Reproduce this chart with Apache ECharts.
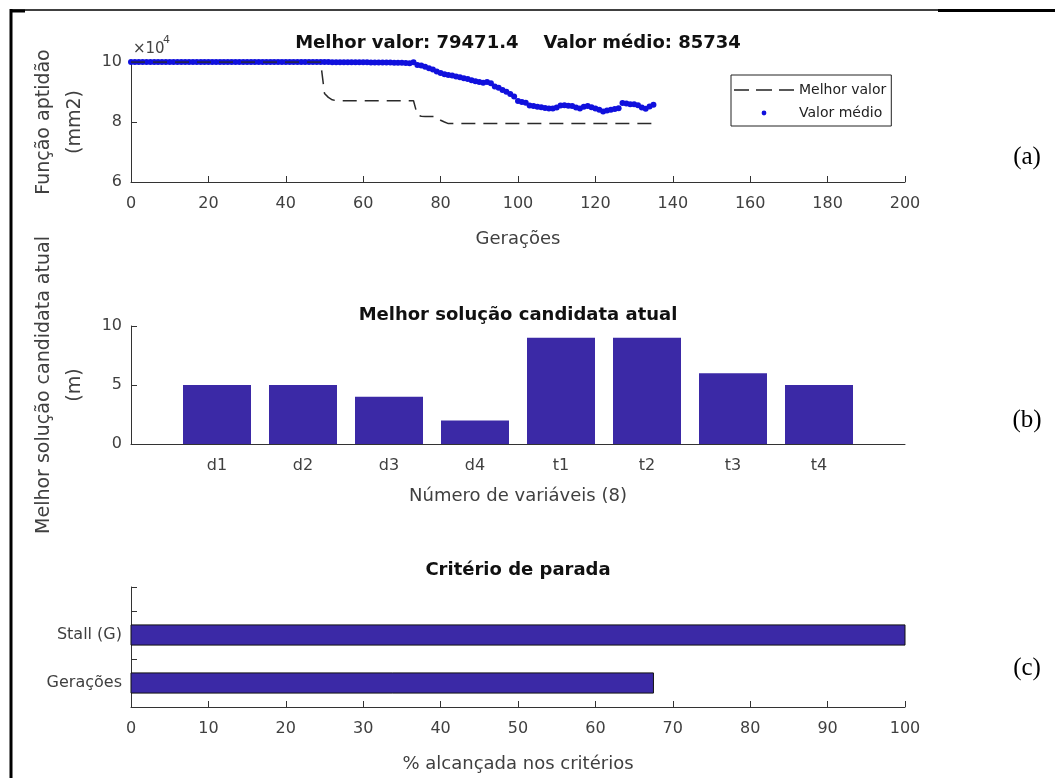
<!DOCTYPE html>
<html>
<head>
<meta charset="utf-8">
<title>Algoritmo genético</title>
<script src="https://cdn.jsdelivr.net/npm/echarts@6.0.0/dist/echarts.min.js"></script>
<style>
html,body{margin:0;padding:0;background:#fff}
#main{width:1055px;height:778px}
</style>
</head>
<body>
<div id="main"></div>
<script>
// (a) melhor valor e valor medio por geracao (0..135)
var bestValues = [
100000,100000,100000,100000,100000,100000,100000,100000,100000,100000,
100000,100000,100000,100000,100000,100000,100000,100000,100000,100000,
100000,100000,100000,100000,100000,100000,100000,100000,100000,100000,
100000,100000,100000,100000,100000,100000,100000,100000,100000,100000,
100000,100000,100000,100000,100000,100000,100000,100000,100000,100000,
89500,88200,87400,87100,87100,87100,87100,87100,87100,87100,
87100,87100,87100,87100,87100,87100,87100,87100,87100,87100,
87100,87100,87100,87100,82300,81900,81800,81800,81800,81800,
80600,80000,79471.4,79471.4,79471.4,79471.4,79471.4,79471.4,79471.4,79471.4,
79471.4,79471.4,79471.4,79471.4,79471.4,79471.4,79471.4,79471.4,79471.4,79471.4,
79471.4,79471.4,79471.4,79471.4,79471.4,79471.4,79471.4,79471.4,79471.4,79471.4,
79471.4,79471.4,79471.4,79471.4,79471.4,79471.4,79471.4,79471.4,79471.4,79471.4,
79471.4,79471.4,79471.4,79471.4,79471.4,79471.4,79471.4,79471.4,79471.4,79471.4,
79471.4,79471.4,79471.4,79471.4,79471.4,79471.4
];
var meanValues = [
100000,100000,100000,100000,100000,100000,100000,100000,100000,100000,
100000,100000,100000,100000,100000,100000,100000,100000,100000,100000,
100000,100000,100000,100000,100000,100000,100000,100000,100000,100000,
100000,100000,100000,100000,100000,100000,100000,100000,100000,100000,
100000,100000,100000,100000,100000,99990,99990,99980,99980,99970,
99960,99960,99950,99940,99940,99930,99920,99920,99910,99900,
99890,99880,99870,99860,99850,99830,99820,99800,99780,99760,
99720,99690,99620,99950,99000,98800,98400,97900,97500,96800,
96300,95900,95700,95500,95200,94900,94600,94300,93900,93600,
93300,93100,93300,92900,91800,91400,90700,90100,89300,88500,
87000,86700,86400,85500,85300,85100,84900,84700,84500,84500,
84800,85500,85600,85400,85300,84800,84500,85100,85300,84900,
84500,84100,83500,83800,84100,84300,84600,86300,86200,85900,
85900,85600,84800,84400,85200,85734
];

// (b) melhor solucao candidata atual
var variableNames = ['d1', 'd2', 'd3', 'd4', 't1', 't2', 't3', 't4'];
var variableValues = [5, 5, 4, 2, 9, 9, 6, 5];

// (c) criterio de parada (%)
var criteriaNames = ['Gerações', 'Stall (G)'];
var criteriaValues = [67.5, 100];

var font = 'DejaVu Sans';
var txt = '#404040';
var ax = '#333';

var chart = echarts.init(document.getElementById('main'));

var bestData = bestValues.map(function (v, i) { return [i, v]; });
var meanData = meanValues.map(function (v, i) { return [i, v]; });
var varData = variableValues.map(function (v, i) { return [i + 1, v]; });
var critData = criteriaValues.map(function (v, i) { return [v, i + 1]; });

function xAx(grid, min, max, step, name, gap, fmt) {
    return {
        gridIndex: grid, type: 'value', min: min, max: max, interval: step,
        name: name, nameLocation: 'middle', nameGap: gap,
        nameTextStyle: {fontSize: 18, color: txt, fontFamily: font},
        axisLine: {show: true, lineStyle: {color: ax, width: 1}},
        axisTick: {show: true, inside: true, length: 6, lineStyle: {color: ax}},
        axisLabel: {margin: 14, fontSize: 16, color: txt, fontFamily: font, formatter: fmt},
        splitLine: {show: false}
    };
}
function yAx(grid, min, max, step, name, fmt) {
    return {
        gridIndex: grid, type: 'value', min: min, max: max, interval: step,
        name: name, nameLocation: 'middle', nameGap: 40,
        nameTextStyle: {fontSize: 19, lineHeight: 31, color: txt, fontFamily: font},
        axisLine: {show: true, lineStyle: {color: ax, width: 1}},
        axisTick: {show: true, inside: true, length: 6, lineStyle: {color: ax}},
        axisLabel: {margin: 9, fontSize: 16, color: txt, fontFamily: font, formatter: fmt},
        splitLine: {show: false}
    };
}

var xb = xAx(1, 0, 9, 1, 'Número de variáveis (8)', 43, function (v) {
    return variableNames[v - 1] || '';
});
xb.axisTick.show = false;

option = {
    animation: false,
    backgroundColor: '#fff',
    title: [
        {text: 'Melhor valor: 79471.4    Valor médio: 85734', left: 518, top: 34, textAlign: 'center', padding: 0,
            textStyle: {fontSize: 18, fontWeight: 'bold', color: '#111', fontFamily: font}},
        {text: 'Melhor solução candidata atual', left: 518, top: 306, textAlign: 'center', padding: 0,
            textStyle: {fontSize: 18, fontWeight: 'bold', color: '#111', fontFamily: font}},
        {text: 'Critério de parada', left: 518, top: 561, textAlign: 'center', padding: 0,
            textStyle: {fontSize: 18, fontWeight: 'bold', color: '#111', fontFamily: font}}
    ],
    legend: {
        left: 731, top: 75, orient: 'vertical',
        borderColor: '#222', borderWidth: 1, backgroundColor: '#fff',
        padding: [8, 5, 6, 3], itemGap: 9, itemWidth: 60, itemHeight: 14,
        selectedMode: false,
        itemStyle: {borderWidth: 0},
        textStyle: {fontSize: 14, color: '#222', fontFamily: font},
        data: [
            {name: 'Melhor valor', icon: 'path://M0,0M60,14M0,6.3L15,6.3L15,7.7L0,7.7Z M22,6.3L38,6.3L38,7.7L22,7.7Z M45,6.3L60,6.3L60,7.7L45,7.7Z'},
            {name: 'Valor médio', icon: 'path://M0,0M60,14M27.6,7A2.4,2.4 0 1,0 32.4,7A2.4,2.4 0 1,0 27.6,7Z'}
        ]
    },
    grid: [
        {left: 131, right: 150, top: 62, height: 120},
        {left: 131, right: 150, top: 326, height: 118},
        {left: 131, right: 150, top: 587, height: 120}
    ],
    xAxis: [
        xAx(0, 0, 200, 20, 'Gerações', 48),
        xb,
        xAx(2, 0, 100, 10, '% alcançada nos critérios', 48)
    ],
    yAxis: [
        yAx(0, 60000, 100000, 20000, 'Função aptidão\n(mm2)', function (v) { return v / 10000; }),
        yAx(1, 0, 10, 5, 'Melhor solução candidata atual\n(m)'),
        yAx(2, 0.5, 3, 0.5, '', function (v) {
            return v % 1 === 0 ? (criteriaNames[v - 1] || '') : '';
        })
    ],
    series: [
        {
            name: 'Melhor valor', type: 'line', xAxisIndex: 0, yAxisIndex: 0,
            data: bestData, showSymbol: false, color: '#222',
            lineStyle: {color: '#2a2a2a', width: 1.5, type: [14, 8]}
        },
        {
            name: 'Valor médio', type: 'scatter', xAxisIndex: 0, yAxisIndex: 0,
            data: meanData, symbolSize: 6, color: '#1010dd',
            itemStyle: {color: '#1010dd', opacity: 1}
        },
        {
            name: 'solucao', type: 'bar', xAxisIndex: 1, yAxisIndex: 1,
            data: varData, barWidth: 68,
            itemStyle: {color: '#3b29a6'}
        },
        {
            name: 'parada', type: 'custom', xAxisIndex: 2, yAxisIndex: 2,
            data: critData, encode: {x: 0, y: 1},
            renderItem: function (params, api) {
                var start = api.coord([0, api.value(1)]);
                var end = api.coord([api.value(0), api.value(1)]);
                var h = api.size([0, 0.42])[1];
                return {
                    type: 'rect',
                    shape: {x: start[0], y: start[1] - h / 2, width: end[0] - start[0], height: h},
                    style: {fill: '#3b29a6', stroke: '#111', lineWidth: 1}
                };
            }
        }
    ],
    graphic: [
        {type: 'text', left: 133, top: 42, style: {text: '×10', font: '15px DejaVu Sans', fill: '#444'}},
        {type: 'text', left: 163, top: 35, style: {text: '4', font: '11px DejaVu Sans', fill: '#444'}},
        {type: 'text', style: {text: '(a)', x: 1027, y: 157, align: 'center', verticalAlign: 'middle', font: '25px Liberation Serif', fill: '#000'}},
        {type: 'text', style: {text: '(b)', x: 1027, y: 420, align: 'center', verticalAlign: 'middle', font: '25px Liberation Serif', fill: '#000'}},
        {type: 'text', style: {text: '(c)', x: 1027, y: 668, align: 'center', verticalAlign: 'middle', font: '25px Liberation Serif', fill: '#000'}},
        {type: 'line', shape: {x1: 11, y1: 9, x2: 11, y2: 778}, style: {stroke: '#000', lineWidth: 3}},
        {type: 'line', shape: {x1: 10, y1: 10, x2: 938, y2: 10}, style: {stroke: '#000', lineWidth: 1.5}},
        {type: 'line', shape: {x1: 938, y1: 10.5, x2: 1055, y2: 10.5}, style: {stroke: '#000', lineWidth: 3}},
        {type: 'line', shape: {x1: 10, y1: 11, x2: 25, y2: 11}, style: {stroke: '#000', lineWidth: 3}}
    ]
};
chart.setOption(option);

window.addEventListener('resize', function () {
    chart.resize();
});
</script>
</body>
</html>
